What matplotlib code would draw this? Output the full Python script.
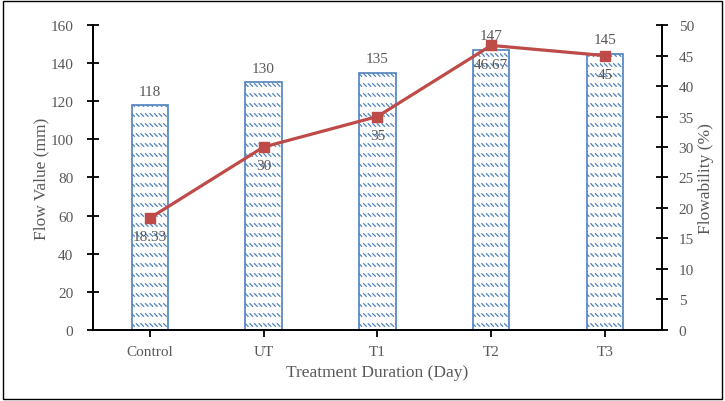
import numpy as np
import matplotlib.pyplot as plt
from matplotlib.patches import Rectangle
from matplotlib import hatch as mhatch
from matplotlib.path import Path

# flow test results per treatment stage
categories = ['Control', 'UT', 'T1', 'T2', 'T3']
flow_value = [118, 130, 135, 147, 145]
flowability = [18.33, 30, 35, 46.67, 45]


class DashedDiagonal(mhatch.HatchPatternBase):
    """Rows of short downward-diagonal dashes, selected with '~'."""
    rows = 10
    cols = 22
    size = 0.026

    def __init__(self, hatch, density):
        self.on = '~' in hatch
        self.num_vertices = self.rows * self.cols * 2 if self.on else 0

    def set_vertices_and_codes(self, vertices, codes):
        i = 0
        for r in range(self.rows):
            y = (r + 0.5) / self.rows
            for c in range(self.cols):
                x0 = c / self.cols
                vertices[i] = (x0, y + self.size / 2)
                vertices[i + 1] = (x0 + self.size, y - self.size / 2)
                codes[i] = Path.MOVETO
                codes[i + 1] = Path.LINETO
                i += 2


mhatch._hatch_types.append(DashedDiagonal)

plt.rcParams['font.family'] = ['Liberation Serif', 'DejaVu Serif']
plt.rcParams['hatch.linewidth'] = 0.9
plt.rcParams['hatch.color'] = '#5B8BD0'

txt = '#595959'
bar_edge = '#4F81BD'
line_col = '#BE4B48'

fig = plt.figure(figsize=(7.25, 4.02), dpi=100)
ax = fig.add_axes([0.128, 0.177, 0.785, 0.758])
ax2 = ax.twinx()

x = np.arange(len(categories))
bars = ax.bar(x, flow_value, width=0.32, facecolor='white', edgecolor=bar_edge,
              linewidth=1.2, hatch='~', zorder=2)
for xi, v in zip(x, flow_value):
    ax.text(xi, v + 4, str(v), ha='center', va='bottom', fontsize=11, color=txt)

ax2.plot(x, flowability, color=line_col, linewidth=2.3, marker='s', markersize=7, zorder=3)
for xi, v in zip(x, flowability):
    ax2.text(xi, v - 2.0, f'{v:g}', ha='center', va='top', fontsize=11, color=txt, zorder=4)

ax.set_ylim(0, 160)
ax.set_yticks(np.arange(0, 161, 20))
ax2.set_ylim(0, 50)
ax2.set_yticks(np.arange(0, 51, 5))
ax.set_xlim(-0.5, 4.5)
ax.set_xticks(x)
ax.set_xticklabels(categories)

for a in (ax, ax2):
    a.spines['top'].set_visible(False)
    for s in ('left', 'right', 'bottom'):
        a.spines[s].set_color('black')
        a.spines[s].set_linewidth(1.3)
    a.tick_params(axis='y', direction='inout', length=8, width=1.3, labelsize=11, labelcolor=txt)
ax.tick_params(axis='x', direction='out', length=5, width=1.3, labelsize=11, labelcolor=txt, pad=6)
ax.tick_params(axis='y', pad=10)
ax2.tick_params(axis='y', pad=8)

ax.set_ylabel('Flow Value (mm)', fontsize=12.5, color=txt, labelpad=1)
ax2.set_ylabel('Flowability (%)', fontsize=12.5, color=txt, labelpad=3)
ax.set_xlabel('Treatment Duration (Day)', fontsize=12.5, color=txt, labelpad=4)

# outer frame
fig.patches.append(Rectangle((0.004, 0.005), 0.992, 0.99, transform=fig.transFigure,
                             fill=False, edgecolor='black', linewidth=1.0))

fig.savefig('out.png', dpi=100)
